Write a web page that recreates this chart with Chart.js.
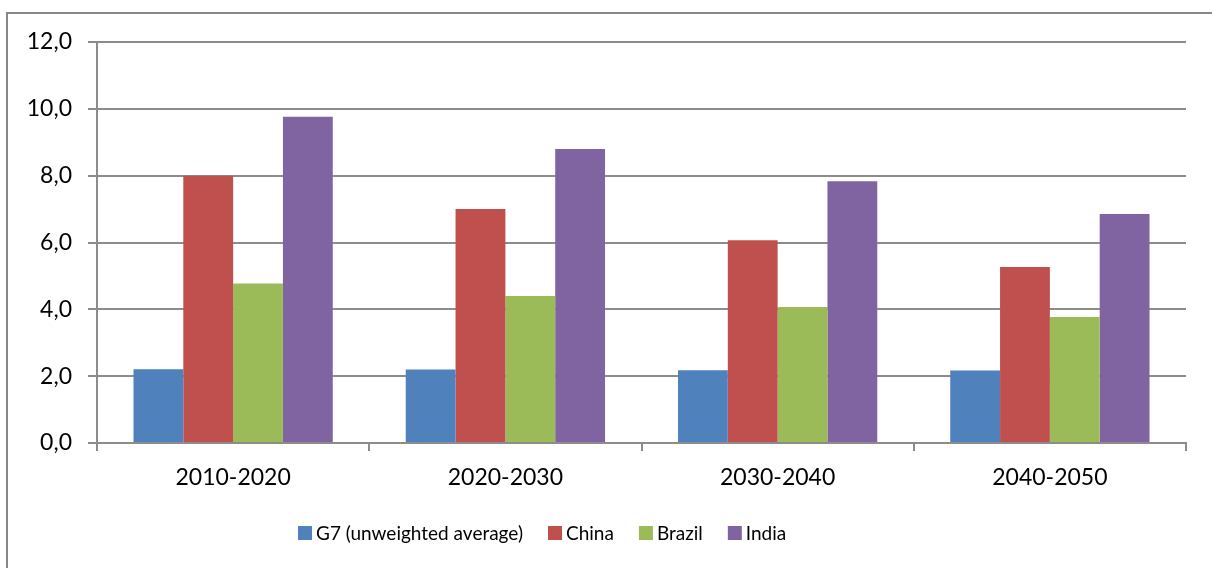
<!DOCTYPE html>
<html><head><meta charset="utf-8">
<script src="https://cdn.jsdelivr.net/npm/chart.js@4/dist/chart.umd.min.js"></script>
<style>html,body{margin:0;padding:0;background:#fff;overflow:hidden}</style>
</head><body>
<canvas id="c" width="1212" height="568" style="display:block;width:1212px;height:568px"></canvas>
<script>
const categories = ['2010-2020', '2020-2030', '2030-2040', '2040-2050'];
const seriesNames = ['G7 (unweighted average)', 'China', 'Brazil', 'India'];
const g7Values = [2.21, 2.20, 2.18, 2.17];
const chinaValues = [8.00, 7.00, 6.07, 5.27];
const brazilValues = [4.77, 4.40, 4.07, 3.77];
const indiaValues = [9.76, 8.80, 7.83, 6.85];
const yTickValues = [0, 2, 4, 6, 8, 10, 12];
const seriesColors = ['#4F81BD', '#C0504D', '#9BBB59', '#8064A2'];

const FONT = 'Lato';
const GRID = '#8c8c8c';

const frame = {
  id: 'frame',
  beforeDraw(chart) {
    const ctx = chart.ctx;
    ctx.save();
    ctx.fillStyle = '#fff';
    ctx.fillRect(0, 0, chart.width, chart.height);
    ctx.strokeStyle = '#878787';
    ctx.lineWidth = 2;
    ctx.beginPath();
    ctx.moveTo(7, chart.height + 2);
    ctx.lineTo(7, 13);
    ctx.lineTo(chart.width + 2, 13);
    ctx.stroke();
    ctx.restore();
  }
};

const customLegend = {
  id: 'customLegend',
  afterDraw(chart) {
    const ctx = chart.ctx;
    ctx.save();
    ctx.font = '19px ' + FONT;
    ctx.textBaseline = 'middle';
    const yc = 533;
    let x = 298;
    chart.data.datasets.forEach((ds) => {
      ctx.fillStyle = ds.backgroundColor;
      ctx.fillRect(x, yc - 7, 14, 14);
      x += 18;
      ctx.fillStyle = '#000';
      ctx.fillText(ds.label, x, yc + 1);
      x += ctx.measureText(ds.label).width + 25;
    });
    ctx.restore();
  }
};

const valueSets = [g7Values, chinaValues, brazilValues, indiaValues];

new Chart(document.getElementById('c'), {
  type: 'bar',
  data: {
    labels: categories,
    datasets: seriesNames.map((name, i) => ({
      label: name,
      data: valueSets[i],
      backgroundColor: seriesColors[i],
      borderWidth: 0,
      barPercentage: 1,
      categoryPercentage: 0.732
    }))
  },
  options: {
    responsive: false,
    devicePixelRatio: 1,
    animation: false,
    layout: { padding: { top: 42, right: 26, left: 0, bottom: 0 } },
    plugins: { legend: { display: false }, tooltip: { enabled: false } },
    scales: {
      x: {
        grid: { offset: true, drawOnChartArea: false, color: GRID, lineWidth: 2, tickLength: 8 },
        border: { display: true, color: GRID, width: 2 },
        ticks: { color: '#000', font: { family: FONT, size: 23 }, padding: 13 },
        afterFit(s) { s.height = 125; }
      },
      y: {
        min: 0, max: 12,
        afterBuildTicks(s) { s.ticks = yTickValues.map(v => ({ value: v })); },
        grid: { color: GRID, lineWidth: 2, tickLength: 9 },
        border: { display: true, color: GRID, width: 2 },
        ticks: {
          color: '#000', font: { family: FONT, size: 23 }, padding: 16,
          callback: (v) => Number(v).toFixed(1).replace('.', ',')
        },
        afterFit(s) { s.width = 97; }
      }
    }
  },
  plugins: [frame, customLegend]
});
</script>
</body></html>
